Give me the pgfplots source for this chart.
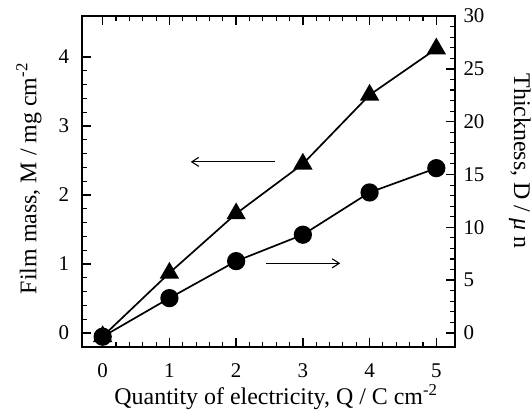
\documentclass[border=0pt]{standalone}
\usepackage{fontspec}
\setmainfont{Liberation Serif}
\usepackage{pgfplots}
\pgfplotsset{compat=1.18}
\usetikzlibrary{arrows.meta}
\pgfplotstableread{
x M
0 -0.05
1 0.87
2 1.73
3 2.45
4 3.45
5 4.12
}\masstable
\pgfplotstableread{
x D
0 -0.35
1 3.3
2 6.8
3 9.3
4 13.3
5 15.6
}\thicktable
\begin{document}
\begin{tikzpicture}
\begin{axis}[
  name=ax1,
  scale only axis, width=373bp, height=331bp,
  xmin=-0.31, xmax=5.28,
  ymin=-0.203, ymax=4.594,
  /pgf/number format/assume math mode=true,
  tick label style={font=\fontsize{21}{25}\selectfont},
  label style={font=\fontsize{24}{28}\selectfont, inner sep=0pt},
  clip mode=individual,
  xtick={0,1,2,3,4,5}, ytick={0,1,2,3,4},
  minor x tick num=4, minor y tick num=4,
  tick pos=both,
  ytick pos=left,
  major tick length=9bp, minor tick length=5bp,
  tick align=inside,
  major tick style={line width=1.4pt, black},
  minor tick style={line width=1.1pt, black},
  every axis/.append style={line width=1.3pt},
  xticklabel style={yshift=-13bp},
  yticklabel style={xshift=-9bp},
  xlabel={Quantity of electricity, Q / C cm\textsuperscript{-2}},
  xlabel style={at={(axis description cs:0.52,-0.151)}, anchor=center},
  ylabel={Film mass, M / mg cm\textsuperscript{-2}},
  ylabel style={at={(axis description cs:-0.142,0.509)}, anchor=center, rotate=0},
]
\addplot[black, line width=1.7pt, mark=triangle*, mark size=9.5pt, mark options={solid}] table[x=x,y=M] {\masstable};
\draw[line width=1.1pt, -{Straight Barb[length=7bp,width=9bp]}] (axis cs:2.58,2.48) -- (axis cs:1.32,2.48);
\draw[line width=1.1pt, -{Straight Barb[length=7bp,width=9bp]}] (axis cs:2.45,1.01) -- (axis cs:3.56,1.01);
\end{axis}
\begin{axis}[
  scale only axis, width=373bp, height=331bp,
  xmin=-0.31, xmax=5.28,
  ymin=-1.326, ymax=30,
  /pgf/number format/assume math mode=true,
  tick label style={font=\fontsize{21}{25}\selectfont},
  label style={font=\fontsize{24}{28}\selectfont, inner sep=0pt},
  clip mode=individual,
  hide x axis,
  axis y line*=right,
  ytick={0,5,10,15,20,25,30},
  minor y tick num=4,
  major tick length=9bp, minor tick length=5bp,
  tick align=inside,
  major tick style={line width=1.4pt, black},
  minor tick style={line width=1.1pt, black},
  yticklabel style={xshift=5bp},
  ylabel={Thickness, D / \textit{μ} n},
  ylabel style={at={(axis description cs:1.174,0.562)}, anchor=center, rotate=180},
]
\addplot[black, line width=1.7pt, mark=*, mark size=8.3pt] table[x=x,y=D] {\thicktable};
\end{axis}
\path (ax1.south west) ++(-82bp,-67bp) rectangle ++(532bp,414bp);
\end{tikzpicture}
\end{document}
